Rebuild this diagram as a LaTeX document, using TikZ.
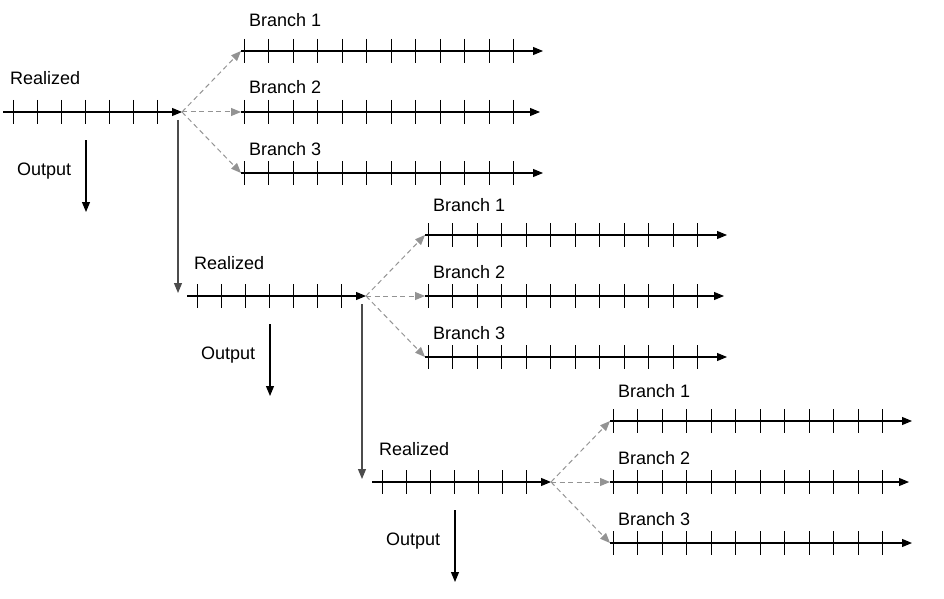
\documentclass[tikz,border=0pt]{standalone}
\usepackage{fontspec}
\setmainfont{Liberation Sans}
\usetikzlibrary{arrows.meta}

\tikzset{
  timeline/.style={line width=1.1pt, -{Triangle[length=10pt,width=8pt]}},
  tickmark/.style={line width=1pt},
  branchlink/.style={gray!85, line width=1pt, dash pattern=on 5pt off 3.5pt,
    -{Triangle[length=10pt,width=8pt]}},
  steplink/.style={black!70, line width=1.1pt, -{Triangle[length=10pt,width=8pt]}},
  lbl/.style={anchor=base west, inner sep=0pt, font=\fontsize{18}{20}\selectfont}
}

\begin{document}
\begin{tikzpicture}[x=1pt,y=-1pt]
    \useasboundingbox (0,0) rectangle (944,599);

    % one block per step: realized line, output arrow, three branches
    \foreach \k/\ox/\oy in {1/3/112, 2/187/296, 3/372/482}{
      \begin{scope}[shift={(\ox,\oy)}]
        \coordinate (real\k-start) at (0,0);
        \coordinate (real\k-end) at (179,0);
        \coordinate (entry\k) at (-9,-3);
        \coordinate (drop\k) at (175,8);
        \coordinate (out\k-top) at (83,28);
        \coordinate (out\k-bot) at (83,100);

        \node[lbl] (real\k-lbl) at (7,-27) {Realized};
        \draw[timeline] (real\k-start) -- (real\k-end);
        \foreach \t in {0,...,6}
          \draw[tickmark] ({10+24*\t},-12) -- ({10+24*\t},12);

        \node[lbl] (out\k-lbl) at (14,63) {Output};
        \draw[timeline] (out\k-top) -- (out\k-bot);

        \foreach \j/\by/\bend/\ly in {1/-61/540/-85, 2/0/537/-18, 3/61/540/43}{
          \coordinate (br\k\j-start) at (238,\by);
          \coordinate (br\k\j-end) at (\bend,\by);
          \node[lbl] (br\k\j-lbl) at (246,\ly) {Branch \j};
          \draw[branchlink] (real\k-end) -- (br\k\j-start);
          \draw[timeline] (br\k\j-start) -- (br\k\j-end);
          \foreach \t in {0,...,11}
            \draw[tickmark] ({241+24.5*\t},\by-12) -- ({241+24.5*\t},\by+12);
        }
      \end{scope}
    }

    \draw[steplink] (drop1) -- (drop1 |- entry2);
    \draw[steplink] (drop2) -- (drop2 |- entry3);
\end{tikzpicture}
\end{document}
